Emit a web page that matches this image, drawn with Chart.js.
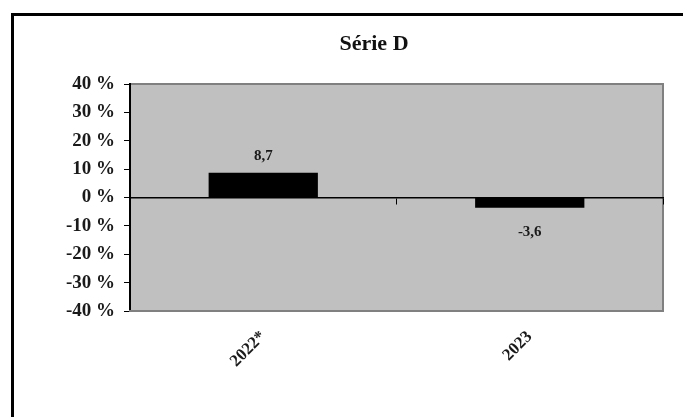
<!DOCTYPE html>
<html lang="fr">
<head>
<meta charset="UTF-8">
<title>Série D</title>
<script src="https://cdn.jsdelivr.net/npm/chart.js"></script>
<style>
  html, body { margin: 0; padding: 0; background: #fff; overflow: hidden; }
  #wrap { position: relative; width: 683px; height: 417px; overflow: hidden; }
  #frame { position: absolute; left: 11px; top: 13px; width: 760px; height: 450px;
           border-left: 3px solid #000; border-top: 3px solid #000; }
  canvas { position: absolute; left: 0; top: 0; }
</style>
</head>
<body>
<div id="wrap">
  <div id="frame"></div>
  <!-- the original chart is wider than the crop; the right part is cut off -->
  <canvas id="chart" width="748" height="417"></canvas>
</div>
<script>
  const title = "Série D";
  const years = ["2022*", "2023"];
  const values = [8.7, -3.6];
  const valueLabels = ["8,7", "-3,6"];
  const yTicks = [-40, -30, -20, -10, 0, 10, 20, 30, 40];

  const serif = "'Liberation Serif', 'Times New Roman', serif";

  // grey plot background and its frame
  const plotBox = {
    id: 'plotBox',
    beforeDraw(chart) {
      const a = chart.chartArea, ctx = chart.ctx;
      ctx.save();
      ctx.fillStyle = '#c0c0c0';
      ctx.fillRect(a.left, a.top, a.right - a.left, a.bottom - a.top);
      ctx.strokeStyle = '#808080';
      ctx.lineWidth = 2;
      ctx.strokeRect(a.left, a.top, a.right - a.left, a.bottom - a.top);
      ctx.restore();
    }
  };

  // value labels above / below bars
  const barLabels = {
    id: 'barLabels',
    afterDatasetsDraw(chart) {
      const ctx = chart.ctx;
      const meta = chart.getDatasetMeta(0);
      ctx.save();
      ctx.font = 'bold 15px ' + serif;
      ctx.fillStyle = '#1a1a1a';
      ctx.textAlign = 'center';
      meta.data.forEach((bar, i) => {
        if (values[i] >= 0) {
          ctx.textBaseline = 'bottom';
          ctx.fillText(valueLabels[i], bar.x, bar.y - 9);
        } else {
          ctx.textBaseline = 'top';
          ctx.fillText(valueLabels[i], bar.x, bar.y + 17);
        }
      });
      ctx.restore();
    }
  };

  new Chart(document.getElementById('chart'), {
    type: 'bar',
    data: {
      labels: years,
      datasets: [{
        data: values,
        backgroundColor: '#000',
        borderWidth: 0,
        barPercentage: 0.41,
        categoryPercentage: 1
      }]
    },
    options: {
      responsive: false,
      animation: false,
      layout: { padding: 0 },
      plugins: {
        legend: { display: false },
        tooltip: { enabled: false },
        title: {
          display: true,
          text: title,
          color: '#111',
          font: { family: serif, size: 22, weight: 'bold' },
          padding: { top: 31, bottom: 26.6 }
        }
      },
      scales: {
        y: {
          min: -40,
          max: 40,
          afterBuildTicks(scale) { scale.ticks = yTicks.map(v => ({ value: v })); },
          afterFit(scale) { scale.width = 130; },
          border: { color: '#000', width: 2 },
          grid: { drawOnChartArea: false, color: '#000', tickLength: 6 },
          ticks: {
            color: '#1a1a1a',
            padding: 9,
            font: { family: serif, size: 19, weight: 'bold' },
            callback: v => v + ' %'
          }
        },
        // empty right margin (reserved space, draws nothing)
        yRight: {
          type: 'linear',
          position: 'right',
          min: -40,
          max: 40,
          afterFit(scale) { scale.width = 85; },
          border: { display: false },
          grid: { display: false },
          ticks: { display: false }
        },
        x: {
          afterFit(scale) { scale.height = 106; },
          border: { color: '#808080', width: 2 },
          grid: { display: false },
          ticks: {
            color: '#1a1a1a',
            minRotation: 45,
            maxRotation: 45,
            padding: 8,
            font: { family: serif, size: 17, weight: 'bold' }
          }
        },
        zero: {
          type: 'category',
          axis: 'x',
          position: { y: 0 },
          border: { color: '#000', width: 1.5 },
          grid: { offset: true, drawOnChartArea: false, color: '#000', tickLength: 6 },
          ticks: { display: false }
        }
      }
    },
    plugins: [plotBox, barLabels]
  });
</script>
</body>
</html>
